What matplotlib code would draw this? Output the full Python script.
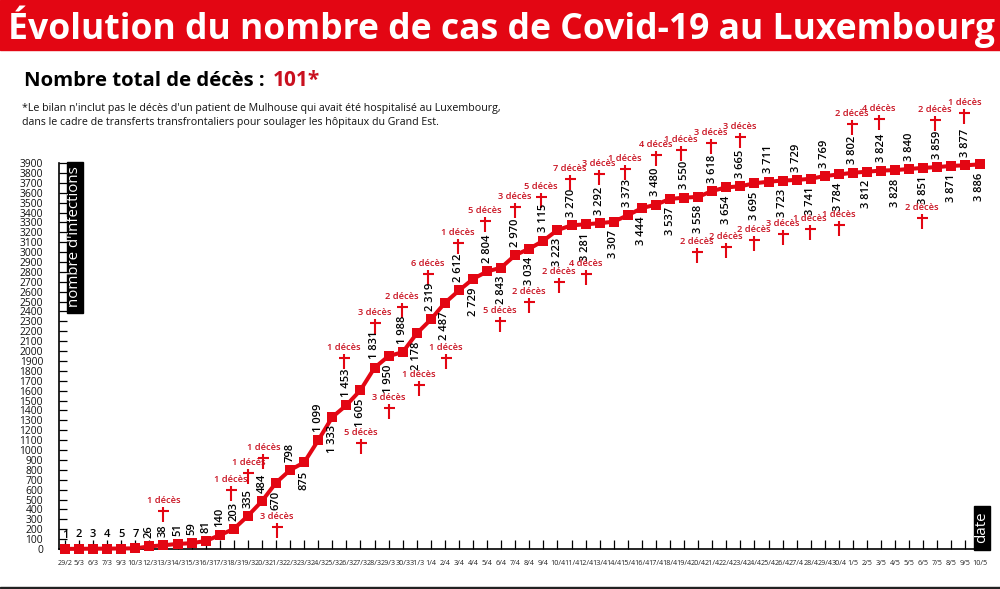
import matplotlib
matplotlib.use("Agg")
import matplotlib.pyplot as plt
from matplotlib.path import Path
from matplotlib.patches import Rectangle

W, H = 1000, 589
RED = "#e30613"
DARK_RED = "#c9101f"
FONT = "Open Sans"

# dates on the x axis
dates = ["29/2", "5/3", "6/3", "7/3", "9/3", "10/3", "12/3", "13/3", "14/3", "15/3", "16/3",
         "17/3", "18/3", "19/3", "20/3", "21/3", "22/3", "23/3", "24/3", "25/3", "26/3",
         "27/3", "28/3", "29/3", "30/3", "31/3", "1/4", "2/4", "3/4", "4/4", "5/4", "6/4",
         "7/4", "8/4", "9/4", "10/4", "11/4", "12/4", "13/4", "14/4", "15/4", "16/4", "17/4",
         "18/4", "19/4", "20/4", "21/4", "22/4", "23/4", "24/4", "25/4", "26/4", "27/4",
         "28/4", "29/4", "30/4", "1/5", "2/5", "3/5", "4/5", "5/5", "6/5", "7/5", "8/5",
         "9/5", "10/5"]

cases = [1, 2, 3, 4, 5, 7, 26, 38, 51, 59, 81, 140, 203, 335, 484, 670, 798, 875, 1099, 1333,
         1453, 1605, 1831, 1950, 1988, 2178, 2319, 2487, 2612, 2729, 2804, 2843, 2970, 3034,
         3115, 3223, 3270, 3281, 3292, 3307, 3373, 3444, 3480, 3537, 3550, 3558, 3618, 3654,
         3665, 3695, 3711, 3723, 3729, 3741, 3769, 3784, 3802, 3812, 3824, 3828, 3840, 3851,
         3859, 3871, 3877, 3886]

# deaths: where each cross sits on the chart scales, and the count written over it
death_pos = [7, 11.8, 13.03, 14.1, 15.05, 19.8, 21.04, 22, 23, 23.95, 25.16, 25.8, 27.08,
             27.93, 29.85, 30.92, 31.98, 32.98, 33.83, 35.1, 35.9, 37, 37.95, 39.8, 41.98,
             43.8, 44.94, 45.9, 46.96, 47.97, 48.99, 51.03, 52.93, 54.99, 55.91, 57.83,
             60.91, 61.85, 63.92]
death_level = [387, 596, 768, 919, 222, 1930, 1071, 2284, 1425, 2448, 1657, 2779, 1933, 3092,
               3314, 2307, 3459, 2499, 3560, 2701, 3735, 2782, 3789, 3840, 3978, 4032, 2998,
               4105, 3054, 4166, 3122, 3180, 3230, 3274, 4291, 4345, 3341, 4335, 4409]
death_count = [1, 1, 1, 1, 3, 1, 5, 3, 3, 2, 1, 6, 1, 1, 5, 5, 3, 2, 5, 2, 7, 4, 3, 1, 4, 1,
               2, 3, 2, 3, 2, 3, 1, 1, 2, 4, 2, 2, 1]

y_ticks = list(range(0, 4000, 100))

plt.rcParams["font.family"] = FONT

fig = plt.figure(figsize=(W / 100, H / 100), dpi=100, facecolor="white")


def fx(px):
    return px / W


def fy(py):
    return 1 - py / H


# axes placed so that 0 sits at y=549 and the 66 dates run from x=65 to x=978
ax = fig.add_axes([fx(59), fy(549), (985 - 59) / W, (549 - 90) / H])
ax.set_xlim((59 - 65) / 14.07, (985 - 65) / 14.07)
ax.set_ylim(0, (549 - 90) / 0.09897)
ax.patch.set_alpha(0)

xs = list(range(len(cases)))
ax.plot(xs, cases, color=RED, lw=2.9, marker="s", ms=7.2, mew=0, clip_on=False, zorder=4)

for side in ["top", "right"]:
    ax.spines[side].set_visible(False)
ax.spines["left"].set_bounds(0, 3900)
ax.spines["left"].set_linewidth(1.2)
ax.spines["bottom"].set_linewidth(1.2)

ax.set_xticks(xs)
ax.set_xticklabels(dates, fontsize=5.2, color="#222222")
ax.set_yticks(y_ticks)
ax.set_yticklabels([str(v) for v in y_ticks], fontsize=7.4, color="#111111")
ax.tick_params(axis="x", direction="in", length=6.5, width=0.9, pad=8)
ax.tick_params(axis="y", direction="in", length=6, width=0.9, pad=11.5)

# value labels: flat for the first ones, then rotated and alternating around the line
for i, v in enumerate(cases):
    text = f"{v:,}".replace(",", " ")
    if i < 6:
        ax.annotate(text, (i, v), xytext=(0, 6), textcoords="offset points", ha="center",
                    va="bottom", fontsize=8, fontweight="semibold", color="black", zorder=5)
    elif i < 15 or i % 2 == 0:
        ax.annotate(text, (i, v), xytext=(0, 6), textcoords="offset points", ha="center",
                    va="bottom", rotation=90, fontsize=8, fontweight="semibold", color="black",
                    zorder=5)
    else:
        ax.annotate(text, (i, v), xytext=(0, -6), textcoords="offset points", ha="center",
                    va="top", rotation=90, fontsize=8, fontweight="semibold", color="black",
                    zorder=5)

# latin cross marker, bar at the anchor
cross = Path([(0, 4), (0, -11), (-5.5, 0), (5.5, 0)],
             [Path.MOVETO, Path.LINETO, Path.MOVETO, Path.LINETO])
ax.plot(death_pos, death_level, ls="none", marker=cross, ms=15.84, mew=1.5, mec=RED,
        mfc="none", clip_on=False, zorder=3)
for x, y, n in zip(death_pos, death_level, death_count):
    ax.annotate(f"{n} décès", (x, y), xytext=(0, 7.6), textcoords="offset points", ha="center",
                va="center", fontsize=6.7, fontweight="semibold", color=DARK_RED, zorder=5)

# black tags for the axis names
fig.add_artist(Rectangle((fx(66.7), fy(313)), 16 / W, 151 / H, color="black", zorder=6))
fig.text(fx(74.7), fy(237), "nombre d'infections", rotation=90, color="white", fontsize=10.8,
         ha="center", va="center", zorder=7)
fig.add_artist(Rectangle((fx(974), fy(550)), 16 / W, 44 / H, color="black", zorder=6))
fig.text(fx(982), fy(527), "date", rotation=90, color="white", fontsize=10.8,
         ha="center", va="center", zorder=7)

# banner
fig.add_artist(Rectangle((0, fy(50)), 1, 50 / H, color=RED, zorder=1))
fig.text(fx(501), fy(38.5), "Évolution du nombre de cas de Covid-19 au Luxembourg", color="white",
         fontsize=25.6, fontweight="bold", ha="center", va="baseline", zorder=2)

# heading and note
fig.text(fx(24), fy(81), "Nombre total de décès :", fontsize=14.7, fontweight="bold",
         color="black", ha="left", va="center")
fig.text(fx(273), fy(81), "101*", fontsize=15, fontweight="bold", color=DARK_RED, ha="left",
         va="center")
fig.text(fx(22), fy(108), "*Le bilan n'inclut pas le décès d'un patient de Mulhouse qui avait "
         "été hospitalisé au Luxembourg,", fontsize=7.65, color="#111111", ha="left", va="center")
fig.text(fx(22), fy(122), "dans le cadre de transferts transfrontaliers pour soulager les "
         "hôpitaux du Grand Est.", fontsize=7.65, color="#111111", ha="left", va="center")

# rule at the foot
fig.add_artist(Rectangle((0, fy(588)), 1, 1.5 / H, color="#222222"))

fig.savefig("out.png", dpi=100)
